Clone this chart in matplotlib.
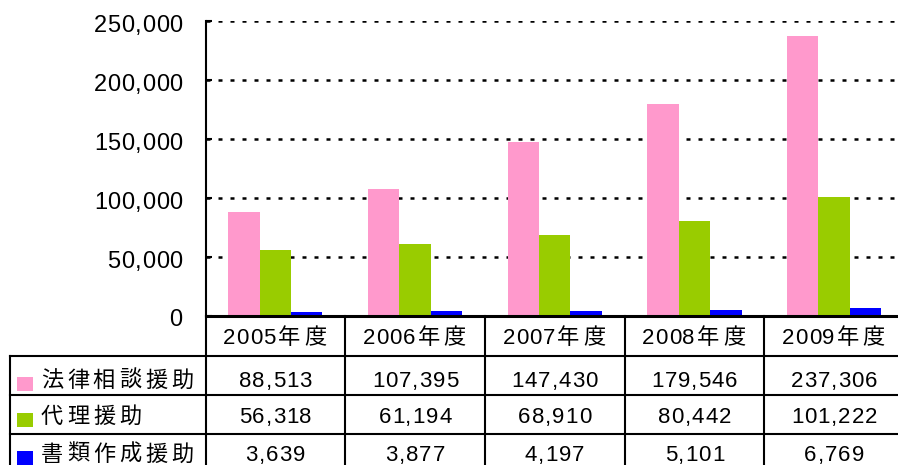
import numpy as np
import matplotlib
matplotlib.use('Agg')
from matplotlib import pyplot as plt
from matplotlib.lines import Line2D
from matplotlib.patches import Rectangle
from matplotlib.transforms import IdentityTransform, blended_transform_factory

# 法テラス 援助件数の推移
years = ['2005年度', '2006年度', '2007年度', '2008年度', '2009年度']
names = ['法律相談援助', '代理援助', '書類作成援助']
soudan = [88513, 107395, 147430, 179546, 237306]
dairi = [56318, 61194, 68910, 80442, 101222]
shorui = [3639, 3877, 4197, 5101, 6769]
colors = ['#ff99cc', '#99cc00', '#0000ff']
yticks = [0, 50000, 100000, 150000, 200000, 250000]

W, H, DPI = 898, 465, 100
FAMILY = ['Liberation Sans', 'Noto Sans CJK JP']
# advance widths of Liberation Sans, in em
ADV = {',': 0.278}
DIGIT_ADV = 0.556

fig = plt.figure(figsize=(W / DPI, H / DPI), dpi=DPI)
px = IdentityTransform()

# plot area (it runs a little past the right edge of the image)
ax = fig.add_axes([205.5 / W, (H - 316) / H, 698.5 / W, (316 - 21.3) / H])

x = np.arange(len(years))
bw = 0.225
for k, (vals, c) in enumerate(zip([soudan, dairi, shorui], colors)):
    ax.bar(x + (k - 1) * bw, vals, bw, color=c, linewidth=0, zorder=2)

ax.set_xlim(-0.5, len(years) - 0.5)
ax.set_ylim(0, 250000)
ax.set_yticks(yticks)
ax.yaxis.grid(True, color='k', linewidth=1.8, linestyle=(0, (1.6, 3.2)))
ax.set_axisbelow(True)
ax.tick_params(axis='y', direction='in', length=4.5, width=1.5, labelleft=False)
ax.tick_params(axis='x', length=0, labelbottom=False)
for s in ['top', 'right']:
    ax.spines[s].set_visible(False)
ax.spines['left'].set_linewidth(1.5)
ax.spines['bottom'].set_linewidth(2.2)


def cells(s, size, kanji, track):
    em = size * DPI / 72
    out = []
    for c in s:
        if ord(c) > 0x2e80:
            out.append(kanji)
        else:
            out.append(ADV.get(c, DIGIT_ADV) * em + track)
    return out


def label(xc, yc, s, size=16, ha='center', kanji=26, track=1.0):
    # letter-spaced text; xc, yc in display pixels, yc = vertical centre
    ws = cells(s, size, kanji, track)
    if ha == 'center':
        xc -= sum(ws) / 2
    elif ha == 'right':
        xc -= sum(ws)
    base = yc - 0.36 * size * DPI / 72
    for c, w in zip(s, ws):
        fig.text(xc + w / 2, base, c, ha='center', va='baseline', fontsize=size,
                 family=FAMILY, transform=px)
        xc += w


# y tick labels
for v in yticks:
    yd = ax.transData.transform((0, v))[1]
    label(183, yd - 2, f'{v:,}', size=17, ha='right', track=0.6)

# data table under the plot
tx = blended_transform_factory(ax.transData, px)
row_lines = [356, 395, 434]
row_text = [379, 415, 453]
for xv in np.arange(len(years) + 1) - 0.5:
    fig.add_artist(Line2D([xv, xv], [H - 316, 0], color='k', lw=1.5, transform=tx))
for yl in row_lines:
    fig.add_artist(Line2D([9.5, W + 10], [H - yl, H - yl], color='k', lw=1.5, transform=px))
fig.add_artist(Line2D([9.5, 9.5], [H - 356, 0], color='k', lw=1.5, transform=px))

cols = [ax.transData.transform((i, 0))[0] for i in x]
for xc, yr in zip(cols, years):
    label(xc, H - 336, yr)

for name, vals, c, yt in zip(names, [soudan, dairi, shorui], colors, row_text):
    fig.add_artist(Rectangle((17, H - (yt + 4.5) - 7), 16, 14, color=c,
                             linewidth=0, transform=px))
    label(39, H - yt, name, ha='left')
    for xc, v in zip(cols, vals):
        label(xc, H - yt, f'{v:,}')

fig.savefig('out.png', dpi=DPI)
